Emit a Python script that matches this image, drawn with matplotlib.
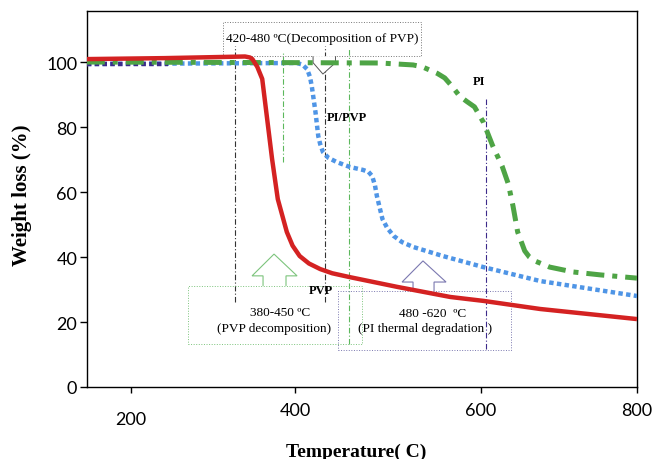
import numpy as np
import matplotlib
matplotlib.use("Agg")
import matplotlib.pyplot as plt
from matplotlib.patches import Rectangle, Polygon

# TGA curves (temperature in C, weight in %)
pvp_t = [146, 241, 320, 339, 345, 348, 354, 360, 366, 372, 379, 390, 397, 405, 415, 427, 440,
         459, 510, 567, 603, 676, 800]
pvp_w = [100.9, 101.2, 101.6, 101.7, 101.4, 100.9, 98.5, 94.8, 82.5, 70.2, 57.8, 47.7, 43.5,
         40.3, 38.0, 36.3, 35.0, 33.8, 30.8, 27.7, 26.5, 24.0, 20.9]

pipvp_t = [146, 402, 408, 413, 416, 418, 422, 425, 427, 430, 436, 445, 459, 473, 479, 483, 486,
           488, 494, 499, 506, 515, 527, 559, 603, 676, 800]
pipvp_w = [99.4, 99.7, 99.2, 97.8, 95.5, 92.6, 84.6, 77.2, 74.8, 72.3, 70.5, 69.2, 67.7, 66.8,
           66.2, 64.9, 62.0, 58.8, 51.7, 49.0, 46.5, 44.6, 43.1, 40.3, 36.9, 32.6, 28.0]

# short indigo dotted piece at the start of the PI/PVP trace
start_t = [146, 245]
start_w = [99.5, 99.5]

pi_t = [146, 405, 491, 527, 537, 545, 553, 561, 569, 577, 585, 593, 603, 615, 627, 635, 641,
        647, 656, 662, 669, 688, 718, 753, 800]
pi_w = [100.0, 99.8, 99.7, 99.1, 98.5, 97.5, 96.5, 95.1, 92.5, 89.5, 87.8, 86.2, 81.5, 74.2,
        68.0, 62.5, 55.7, 47.7, 41.9, 40.0, 38.8, 36.9, 35.4, 34.5, 33.5]

x_ticks = [200, 400, 600, 800]
y_ticks = [0, 20, 40, 60, 80, 100]

# the original x axis is not evenly spaced: tick positions in axis pixels
tick_px = [44, 208, 394, 550]


def _lin(v, xs, ys):
    v = np.asarray(v, dtype=float)
    out = np.interp(v, xs, ys)
    lo_s = (ys[1] - ys[0]) / (xs[1] - xs[0])
    hi_s = (ys[-1] - ys[-2]) / (xs[-1] - xs[-2])
    out = np.where(v < xs[0], ys[0] + (v - xs[0]) * lo_s, out)
    out = np.where(v > xs[-1], ys[-1] + (v - xs[-1]) * hi_s, out)
    return out


def fwd(t):
    return _lin(t, x_ticks, tick_px)


def inv(p):
    return _lin(p, tick_px, x_ticks)


fig = plt.figure(figsize=(6.59, 4.60), dpi=100)
ax = fig.add_axes([87 / 659, 72 / 460, 550 / 659, 376 / 460])
ax.set_xscale("function", functions=(fwd, inv))

red = "#d42222"
blue = "#4f95e6"
green = "#4ea445"
indigo = "#3c2a8a"

ax.plot(pipvp_t, pipvp_w, color=blue, lw=3.2, ls=(0, (1, 0.75)), zorder=3)
ax.plot(start_t, start_w, color=indigo, lw=3.2, ls=(0, (1, 0.75)), zorder=3.5)
ax.plot(pi_t, pi_w, color=green, lw=3.6, ls=(0, (3.6, 1.6, 1, 1.6)), zorder=4)
ax.plot(pvp_t, pvp_w, color=red, lw=3.2, zorder=5, solid_capstyle="butt",
        solid_joinstyle="round")

# vertical guide lines
dd = (0, (5, 2, 1, 2))
ax.plot([327, 327], [26.2, 104.9], color="#333333", lw=0.8, ls=dd, zorder=2)
ax.plot([385, 385], [69.2, 103.1], color="#5cb85c", lw=0.8, ls=dd, zorder=2)
ax.plot([432, 432], [26.2, 104.9], color="#333333", lw=0.8, ls=dd, zorder=2)
ax.plot([458, 458], [13.2, 104.0], color="#5cb85c", lw=0.8, ls=dd, zorder=2)
ax.plot([606, 606], [11.7, 88.6], color="#3c2a8a", lw=0.8, ls=dd, zorder=2)

serif = "Liberation Serif"

# top callout
ax.add_patch(Rectangle((312, 101.8), 535.5 - 312, 112.3 - 101.8, fill=False,
                       ec="#777777", lw=0.7, ls=":", zorder=2))
ax.add_patch(Polygon([(419.4, 101.8), (419.4, 99.8), (430, 96.3), (443.5, 99.8), (443.5, 101.8)],
                     closed=False, fc="white", ec="#555555", lw=0.7, zorder=2))
ax.text(429, 107.4, "420-480 ºC(Decomposition of PVP)", family=serif, fontsize=9.5,
        ha="center", va="center")

# green box
ax.add_patch(Rectangle((269.5, 13.2), 472 - 269.5, 31.1 - 13.2, fill=False,
                       ec="#7cc47c", lw=0.7, ls=":", zorder=2))
ax.add_patch(Polygon([(361, 31.1), (361, 34.2), (347.6, 34.2), (374.4, 40.9),
                      (402.2, 34.2), (389, 34.2), (389, 31.1)],
                     closed=False, fc="white", ec="#7cc47c", lw=0.8, zorder=2))
ax.text(381.7, 23.1, "380-450 ºC", family=serif, fontsize=9.5, ha="center", va="center")
ax.text(374.4, 18.2, "(PVP decomposition)", family=serif, fontsize=9.5, ha="center", va="center")

# indigo box
ax.add_patch(Rectangle((446.2, 11.4), 638.5 - 446.2, 29.5 - 11.4, fill=False,
                       ec="#7b78b0", lw=0.7, ls=":", zorder=2))
ax.add_patch(Polygon([(526.9, 29.5), (526.9, 32.3), (515.1, 32.3), (537.6, 38.8),
                      (562.4, 32.3), (549.5, 32.3), (549.5, 29.5)],
                     closed=False, fc="white", ec="#7b78b0", lw=0.8, zorder=2))
ax.text(548.4, 22.8, "480 -620  ºC", family=serif, fontsize=9.5, ha="center", va="center")
ax.text(539.8, 18.2, "(PI thermal degradation )", family=serif, fontsize=9.5, ha="center", va="center")

# curve labels
ax.text(434.4, 83.1, "PI/PVP", family=serif, fontsize=9, weight="bold", va="center", zorder=6)
ax.text(415, 29.8, "PVP", family=serif, fontsize=9, weight="bold", va="center", zorder=6)
ax.text(591.4, 94.2, "PI", family=serif, fontsize=9, weight="bold", va="center", zorder=6)

ax.set_xlim(146.3, 800)
ax.set_ylim(0, 115.7)
ax.set_xticks(x_ticks)
ax.set_yticks(y_ticks)
ax.tick_params(axis="both", direction="out", width=1.0, labelsize=13)
ax.tick_params(axis="x", length=4.5, pad=6)
ax.tick_params(axis="y", length=5, pad=2)
for lab in ax.get_xticklabels() + ax.get_yticklabels():
    lab.set_family("Lato")
ax.xaxis.get_major_ticks()[0].set_pad(13)

for sp in ax.spines.values():
    sp.set_linewidth(1.0)

ax.set_xlabel("Temperature( C)", family=serif, weight="bold", fontsize=14)
ax.xaxis.set_label_coords(0.489, -0.148)
ax.set_ylabel("Weight loss (%)", family=serif, weight="bold", fontsize=15)
ax.yaxis.set_label_coords(-0.1, 0.513)

fig.savefig("out.png", dpi=100)
